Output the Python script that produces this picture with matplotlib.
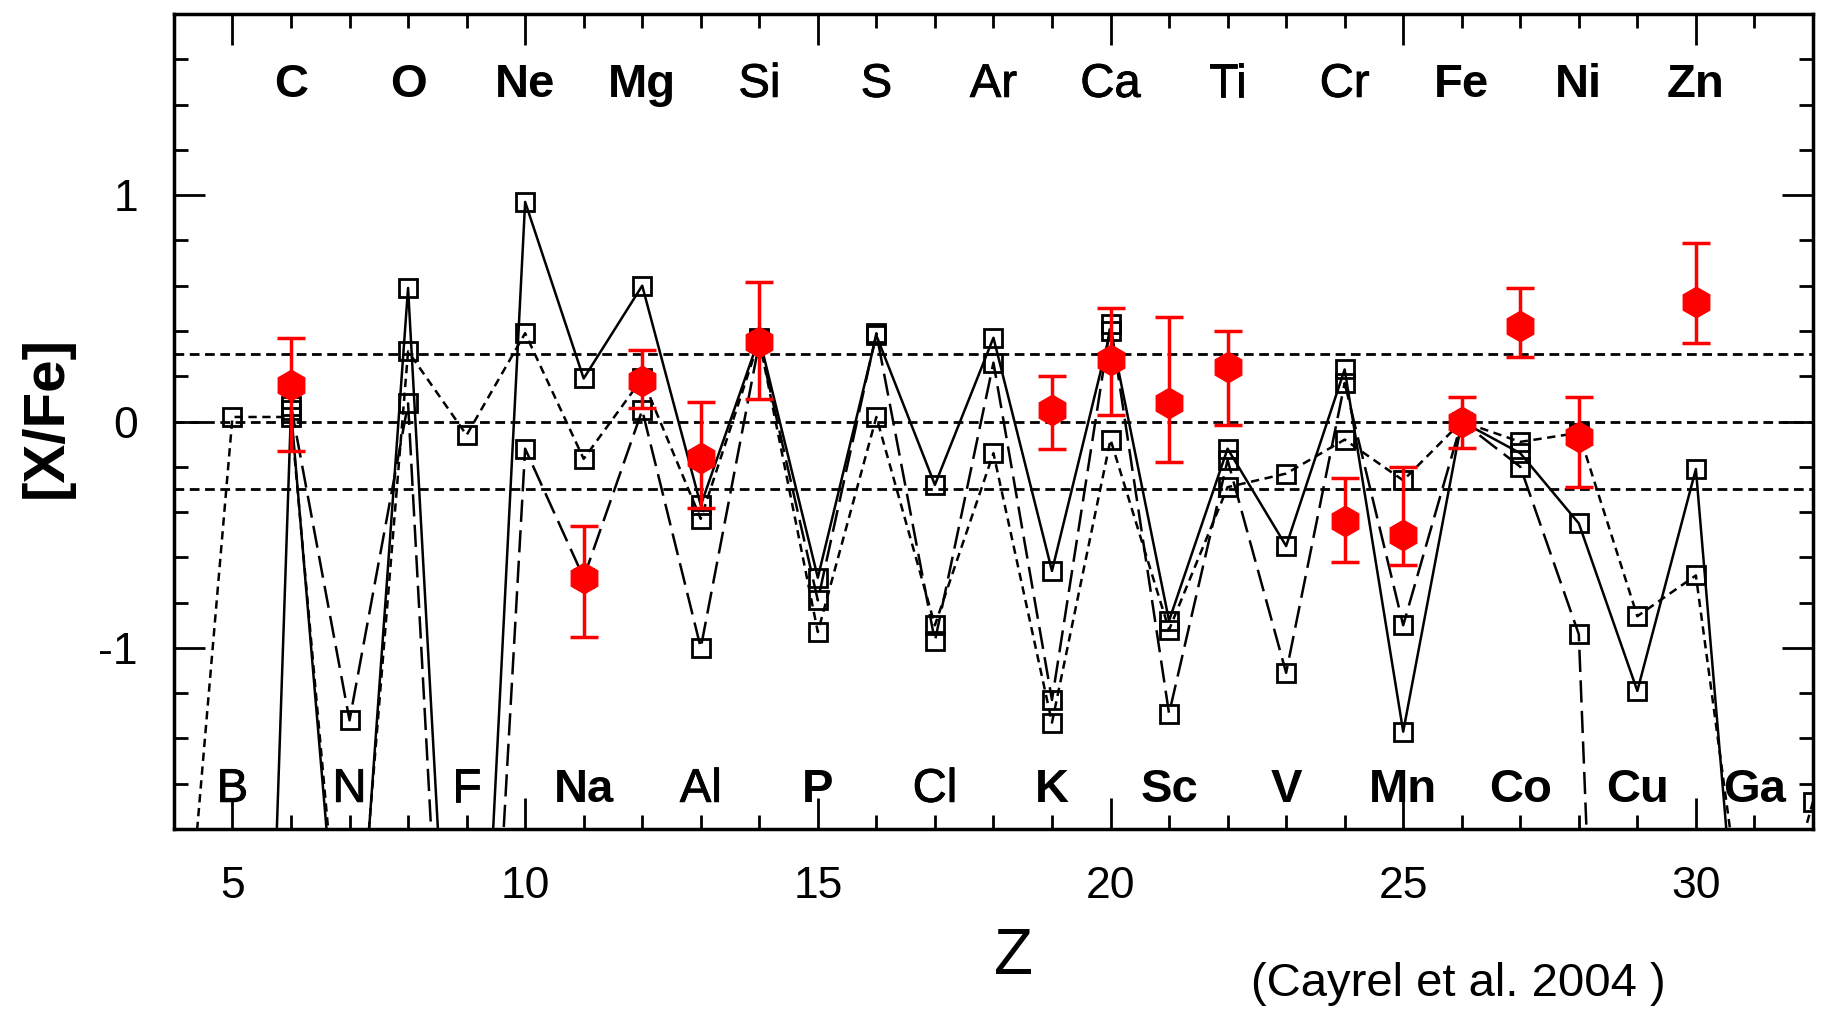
import numpy as np
import matplotlib
matplotlib.use("Agg")
import matplotlib.pyplot as plt
import matplotlib.patheffects as pe
from matplotlib.ticker import MultipleLocator

plt.rcParams['font.family'] = ['Liberation Sans', 'DejaVu Sans']
plt.rcParams['axes.unicode_minus'] = False
plt.rcParams['lines.scale_dashes'] = False

# atomic number grid for the model curves
z = np.arange(4, 33)
nan = np.nan

# model yields [X/Fe] (three models), Z = 4 .. 32
model_solid = [nan, -7.6, 0.05, -3.0, 0.59, -4.1, 0.97, 0.19, 0.60, -0.37,
               0.37, -0.69, 0.38, -0.28, 0.37, -0.66, 0.40, -0.88, -0.12, -0.55,
               0.23, -1.37, 0.00, -0.14, -0.45, -1.19, -0.21, -3.27, nan]
model_long = [nan, nan, 0.07, -1.32, 0.08, -4.7, -0.12, -0.69, 0.05, -1.00,
              0.35, -0.79, 0.39, -0.97, 0.26, -1.23, 0.43, -1.29, -0.17, -1.11,
              0.17, -0.90, 0.00, -0.20, -0.94, -7.5, nan, nan, nan]
model_short = [-3.0, 0.02, 0.02, -2.85, 0.31, -0.06, 0.39, -0.165, 0.19, -0.43,
               0.36, -0.93, 0.02, -0.90, -0.14, -1.33, -0.08, -0.92, -0.29, -0.23,
               -0.08, -0.26, 0.00, -0.09, -0.05, -0.86, -0.68, -2.6, -1.68]

# observed abundances (Cayrel et al. 2004)
obs_z = [6, 11, 12, 13, 14, 19, 20, 21, 22, 24, 25, 26, 27, 28, 30]
obs_val = [0.16, -0.69, 0.18, -0.16, 0.35, 0.05, 0.27, 0.08, 0.24,
           -0.44, -0.50, 0.00, 0.42, -0.07, 0.53]
obs_err_up = [0.21, 0.23, 0.135, 0.245, 0.265, 0.15, 0.23, 0.38, 0.16,
              0.19, 0.30, 0.11, 0.17, 0.18, 0.26]
obs_err_dn = [0.29, 0.26, 0.12, 0.22, 0.25, 0.17, 0.24, 0.26, 0.255,
              0.18, 0.135, 0.115, 0.135, 0.22, 0.185]

# element names: even Z on top row, odd Z on bottom row
top_z = list(range(6, 31, 2))
top_names = ['C', 'O', 'Ne', 'Mg', 'Si', 'S', 'Ar', 'Ca', 'Ti', 'Cr', 'Fe', 'Ni', 'Zn']
bot_z = list(range(5, 32, 2))
bot_names = ['B', 'N', 'F', 'Na', 'Al', 'P', 'Cl', 'K', 'Sc', 'V', 'Mn', 'Co', 'Cu', 'Ga']
bold_names = {'C', 'O', 'Ne', 'Mg', 'Fe', 'Ni', 'Zn', 'Na', 'P', 'K', 'Sc', 'V',
              'Mn', 'Co', 'Cu', 'Ga'}

fig = plt.figure(figsize=(18.25, 10.09), dpi=100)
ax = fig.add_axes([0.0953, 0.1784, 0.8981, 0.8077])

# reference levels
for lev in [0.3, 0.0, -0.3]:
    ax.axhline(lev, color='black', lw=2, linestyle=(0, (7, 4)), zorder=1)

sq = dict(marker='s', ms=13, mfc='none', mec='black', mew=2, color='black', lw=1.8)
ax.plot(z, model_solid, linestyle='-', zorder=2, **sq)
ax.plot(z, model_long, linestyle=(0, (16, 6)), zorder=2, **sq)
ax.plot(z, model_short, linestyle=(0, (6, 4)), zorder=2, **sq)

ax.errorbar(obs_z, obs_val, yerr=[obs_err_dn, obs_err_up], fmt='h', color='red',
            ms=22, elinewidth=2.5, capsize=10, capthick=2.5, zorder=5)

# a touch heavier than plain regular for the non-bold symbols
heavy = [pe.withStroke(linewidth=0.6, foreground='black')]


def put_names(zs, names, y):
    for zz, name in zip(zs, names):
        if name in bold_names:
            ax.text(zz, y, name, ha='center', va='baseline', fontsize=34,
                    fontweight='bold')
        else:
            ax.text(zz, y, name, ha='center', va='baseline', fontsize=34,
                    path_effects=heavy)


put_names(top_z, top_names, 1.434)
put_names(bot_z, bot_names, -1.68)

ax.set_xlim(4, 32)
ax.set_ylim(-1.8, 1.8)
ax.set_xticks([5, 10, 15, 20, 25, 30])
ax.xaxis.set_minor_locator(MultipleLocator(1))
ax.set_yticks([-1, 0, 1])
ax.yaxis.set_minor_locator(MultipleLocator(0.2))
ax.tick_params(which='both', direction='in', top=True, right=True, width=2)
ax.tick_params(which='major', length=22)
ax.tick_params(which='minor', length=10)
ax.tick_params(axis='x', pad=27, labelsize=32)
ax.tick_params(axis='y', pad=26, labelsize=32)
for sp in ax.spines.values():
    sp.set_linewidth(2.5)

fig.text(0.0255, 0.587, '[X/Fe]', rotation=90, fontsize=42, fontweight='bold',
         ha='center', va='center')
fig.text(0.5556, 0.0515, 'Z', fontsize=46, ha='center', va='center')
fig.text(0.6855, 0.0248, '(Cayrel et al. 2004 )', fontsize=34, ha='left', va='center')

fig.savefig('out.png', dpi=100)
